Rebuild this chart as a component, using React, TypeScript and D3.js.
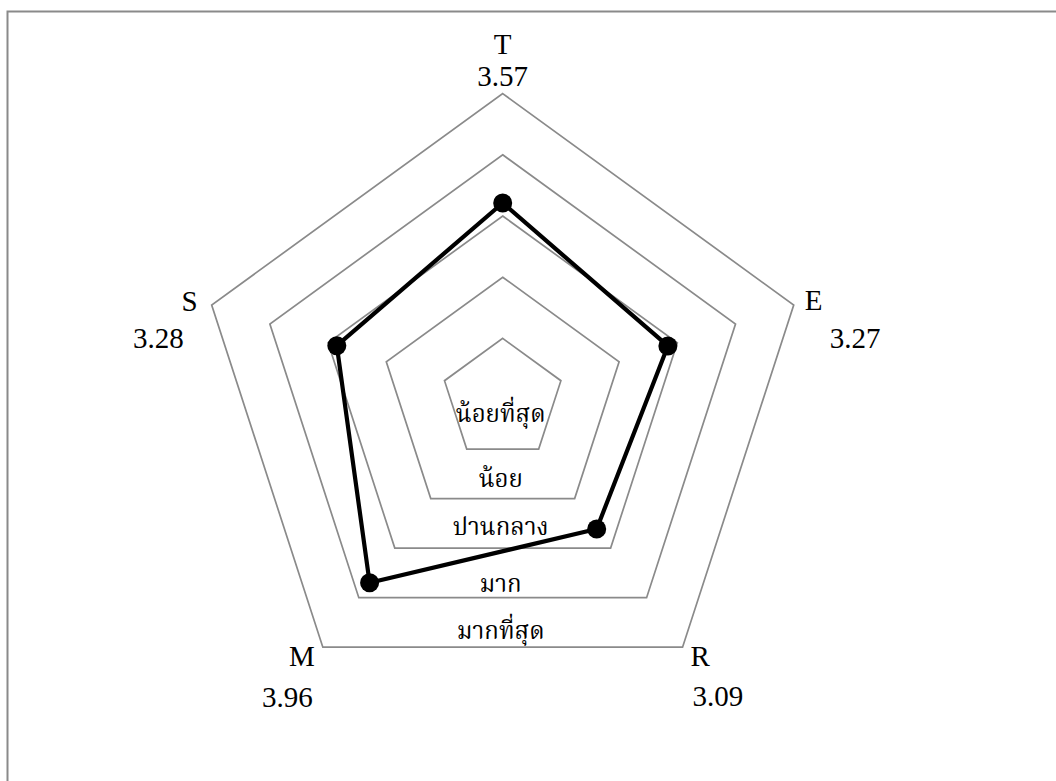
import * as d3 from 'd3'

const W = 1056
const H = 781

// axes go clockwise from the top
const AXES = ['T', 'E', 'R', 'M', 'S']
const VALUES = [3.57, 3.27, 3.09, 3.96, 3.28]
const RING_LEVELS = [1.8, 2.6, 3.4, 4.2, 5]
const LEVEL_LABELS = ['น้อยที่สุด', 'น้อย', 'ปานกลาง', 'มาก', 'มากที่สุด']
const SCALE_MIN = 1
const SCALE_MAX = 5

const CX = 502.7
const CY = 399.6
const RADIUS = 306

const GRID = '#8a8a8a'
const FONT = "'Liberation Serif', 'Times New Roman', 'Noto Serif Thai', 'Noto Sans Thai', serif"

// label placement per axis, relative to the outer vertex
const LABEL_POS = [
  { anchor: 'middle', name: [0, -40], value: [0, -8] },
  { anchor: 'start', name: [11, 5], value: [36, 43] },
  { anchor: 'start', name: [8, 19], value: [10, 59] },
  { anchor: 'end', name: [-8, 19], value: [-10, 60] },
  { anchor: 'end', name: [-14, 6], value: [-28, 43] },
]
// how far above each ring's bottom edge its level label sits
const LEVEL_LIFT = [27, 12, 13, 6, 8]

const r = d3.scaleLinear([SCALE_MIN, SCALE_MAX], [0, RADIUS])
const angle = (i: number) => (i * 2 * Math.PI) / AXES.length

const point = (i: number, v: number): [number, number] => [
  CX + r(v) * Math.sin(angle(i)),
  CY - r(v) * Math.cos(angle(i)),
]

const radial = d3
  .lineRadial<number>()
  .angle((_, i) => angle(i))
  .radius((d) => r(d))
  .curve(d3.curveLinearClosed)

export default function App() {
  const bottom = (v: number) => CY + r(v) * Math.cos(Math.PI / AXES.length)

  return (
    <svg
      width={W}
      height={H}
      viewBox={`0 0 ${W} ${H}`}
      style={{ position: 'absolute', left: 0, top: 0, background: '#fff' }}
    >
      <rect x={7.5} y={11.5} width={W + 20} height={H + 20} fill="#fff" stroke={GRID} strokeWidth={2} />

      <g transform={`translate(${CX},${CY})`}>
        {RING_LEVELS.map((lv) => (
          <path
            key={lv}
            d={radial(AXES.map(() => lv)) ?? ''}
            fill="none"
            stroke={GRID}
            strokeWidth={1.7}
          />
        ))}
      </g>

      {LEVEL_LABELS.map((t, k) => (
        <text
          key={t}
          x={CX - 2}
          y={bottom(RING_LEVELS[k]) - LEVEL_LIFT[k]}
          textAnchor="middle"
          fontFamily={FONT}
          fontSize={24}
          fill="#000"
        >
          {t}
        </text>
      ))}

      <g transform={`translate(${CX},${CY})`}>
        <path d={radial(VALUES) ?? ''} fill="none" stroke="#000" strokeWidth={4.2} strokeLinejoin="round" />
      </g>
      {VALUES.map((v, i) => {
        const [x, y] = point(i, v)
        return <circle key={AXES[i]} cx={x} cy={y} r={9.5} fill="#000" />
      })}

      {AXES.map((a, i) => {
        const [vx, vy] = point(i, SCALE_MAX)
        const p = LABEL_POS[i]
        return (
          <g key={a} fontFamily={FONT} fontSize={29} fill="#000" textAnchor={p.anchor}>
            <text x={vx + p.name[0]} y={vy + p.name[1]}>
              {a}
            </text>
            <text x={vx + p.value[0]} y={vy + p.value[1]}>
              {VALUES[i].toFixed(2)}
            </text>
          </g>
        )
      })}
    </svg>
  )
}
